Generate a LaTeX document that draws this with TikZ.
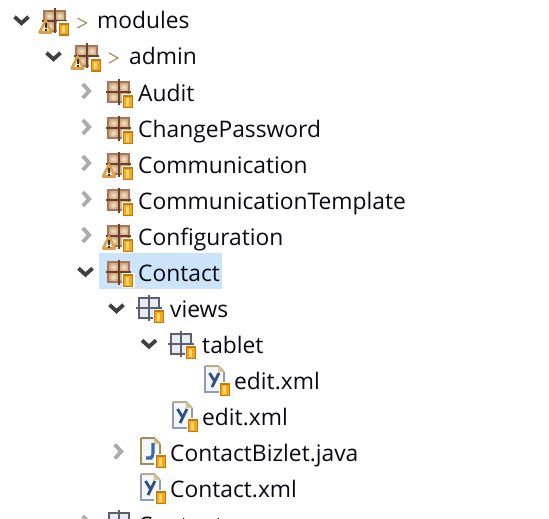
\documentclass[tikz,border=0pt]{standalone}
\usepackage{fontspec}
\setmainfont{Open Sans}
\definecolor{txt}{HTML}{0A0A14}
\definecolor{sel}{HTML}{CCE4F9}
\definecolor{chevD}{HTML}{404040}
\definecolor{chevL}{HTML}{ABABAB}
\definecolor{pkgE}{HTML}{A9765C}
\definecolor{pkgL}{HTML}{F2E6C8}
\definecolor{pkgM}{HTML}{C6A274}
\definecolor{pkgC}{HTML}{6E3F2E}
\definecolor{jarO}{HTML}{F5A91A}
\definecolor{jarD}{HTML}{C47A10}
\definecolor{jarL}{HTML}{FFD970}
\definecolor{warnO}{HTML}{D9A050}
\definecolor{warnF}{HTML}{FBEBC4}
\definecolor{fldE}{HTML}{5F5F66}
\definecolor{fldF}{HTML}{E6EBFA}
\definecolor{xmlE}{HTML}{8C9DB8}
\definecolor{xmlF}{HTML}{F4F6FB}
\definecolor{fold}{HTML}{D9C493}
\definecolor{xmlY}{HTML}{2F4F7F}
\definecolor{javE}{HTML}{A38E55}
\definecolor{javJ}{HTML}{2F6CA8}
\definecolor{gtC}{HTML}{A88A5C}
\definecolor{xmlT}{HTML}{B5AE8C}
\tikzset{
  x=1pt,y=-1pt,
  lbl/.style={anchor=base west,inner sep=0pt,text=txt,font=\fontsize{22.8}{26}\selectfont},
  chev/.style={line width=3.8pt,line cap=butt,line join=miter}
}
\newcommand{\chevDown}[2]{\draw[chev,chevD] (#1-7,#2-3.2) -- (#1,#2+3.2) -- (#1+7,#2-3.2);}
\newcommand{\chevRight}[2]{\draw[chev,chevL] (#1-3.2,#2-7) -- (#1+3.2,#2) -- (#1-3.2,#2+7);}
% jar: left-top corner
\newcommand{\jarIcon}[2]{\begin{scope}[shift={(#1,#2)}]
  \fill[white] (-1.5,-1.5) rectangle (11.5,14);
  \fill[jarD] (0,0) rectangle (10,13);
  \fill[jarO] (1,2.2) rectangle (9,11.5);
  \fill[jarL] (3,3) rectangle (6,10.5);
\end{scope}}
% warning triangle: apex
\newcommand{\warnIcon}[2]{\begin{scope}[shift={(#1,#2)}]
  \fill[warnF,draw=warnO,line width=2.6pt,line join=round] (0,1.5) -- (6,13.5) -- (-6,13.5) -- cycle;
  \fill[black!80] (-1,4.5) rectangle (1,9.5);
  \fill[black!80] (-1,10.5) rectangle (1,12.5);
\end{scope}}
% package: centre
\newcommand{\pkgIcon}[2]{\begin{scope}[shift={(#1,#2)}]
  \shade[inner color=pkgL,outer color=pkgM] (-10.5,-10) rectangle (0,0);
  \shade[inner color=pkgL,outer color=pkgM] (0,-10) rectangle (10.5,0);
  \shade[inner color=pkgL,outer color=pkgM] (-10.5,0) rectangle (0,10);
  \shade[inner color=pkgL,outer color=pkgM] (0,0) rectangle (10.5,10);
  \draw[pkgE,line width=2pt] (-10.5,-10) rectangle (10.5,10);
  \draw[pkgC,line width=2pt] (-12.5,0) -- (12.5,0);
  \draw[pkgC,line width=2pt] (0,-12.5) -- (0,12.5);
\end{scope}}
% source folder: centre
\newcommand{\fldIcon}[2]{\begin{scope}[shift={(#1,#2)}]
  \fill[fldF] (-10,-10) rectangle (10,10);
  \draw[fldE,line width=2pt] (-10,-10) rectangle (10,10);
  \draw[fldE,line width=2pt] (-13,0) -- (13,0);
  \draw[fldE,line width=2pt] (0,-13) -- (0,13);
\end{scope}}
% page: left-top, colours for left/bottom edge and top edge
\newcommand{\pageIcon}[4]{\begin{scope}[shift={(#1,#2)}]
  \fill[xmlF] (0,0) -- (13,0) -- (19,6) -- (19,26) -- (0,26) -- cycle;
  \draw[#3,line width=2pt] (19,6) -- (19,26) -- (0,26) -- (0,0);
  \draw[#4,line width=2pt] (0,0) -- (13,0) -- (19,6);
  \fill[fold] (13,0) -- (19,6) -- (13,6) -- cycle;
\end{scope}}
\newcommand{\yGlyph}[2]{\draw[xmlY,line width=2.8pt] (#1+4.5,#2+7) -- (#1+9.5,#2+15);\draw[xmlY,line width=2.8pt] (#1+14,#2+7) -- (#1+7,#2+21);}
\newcommand{\jGlyph}[2]{\draw[javJ,line width=3.2pt] (#1+12,#2+5) -- (#1+12,#2+17) -- (#1+10,#2+20) -- (#1+5,#2+20);}
\newcommand{\gtSign}[2]{\draw[gtC,line width=1.2pt] (#1-4.5,#2-5) -- (#1+4.5,#2) -- (#1-4.5,#2+5);}
\begin{document}
\begin{tikzpicture}
\useasboundingbox (0,0) rectangle (549,519);
\fill[white] (0,0) rectangle (549,519);
\clip (0,0) rectangle (549,519);
\fill[sel] (99,253) rectangle (222,289);
% row 1
\chevDown{21.5}{20}
\pkgIcon{54.5}{21}\warnIcon{45.5}{19}\jarIcon{58.5}{23}
\gtSign{82}{23}
\node[lbl] (n1) at (97,29) {modules};
% row 2
\chevDown{53.5}{56}
\pkgIcon{86.5}{56}\warnIcon{77.5}{55}\jarIcon{90.5}{59}
\gtSign{113.5}{58}
\node[lbl] (n2) at (129,65) {admin};
% package rows
\chevRight{86}{91}
\pkgIcon{118.5}{92}\jarIcon{123}{95}
\node[lbl] (n3) at (138,101) {Audit};
\chevRight{86}{127}
\pkgIcon{118.5}{128}\jarIcon{123}{131}
\node[lbl] (n4) at (138,137) {ChangePassword};
\chevRight{86}{163}
\pkgIcon{118.5}{164}\warnIcon{109}{163}\jarIcon{123}{167}
\node[lbl] (n5) at (138,173) {Communication};
\chevRight{86}{199}
\pkgIcon{118.5}{200}\jarIcon{123}{203}
\node[lbl] (n6) at (138,209) {CommunicationTemplate};
\chevRight{86}{235}
\pkgIcon{118.5}{236}\warnIcon{109}{235}\jarIcon{123}{239}
\node[lbl] (n7) at (138,245) {Configuration};
\chevDown{85.5}{271.5}
\pkgIcon{118.5}{272}\jarIcon{123}{274}
\node[lbl] (n8) at (138,281) {Contact};
% views
\chevDown{116.5}{308}
\fldIcon{149}{308}\jarIcon{154}{310}
\node[lbl] (n9) at (170,317) {views};
\chevDown{149}{343.5}
\fldIcon{181}{344}\jarIcon{186}{346}
\node[lbl] (n10) at (202,353) {tablet};
% files
\pageIcon{205}{366}{xmlE}{xmlT}\yGlyph{205}{366}\jarIcon{220}{383}
\node[lbl] (n11) at (234,389) {edit.xml};
\pageIcon{173}{402}{xmlE}{xmlT}\yGlyph{173}{402}\jarIcon{188}{419}
\node[lbl] (n12) at (202,425) {edit.xml};
\chevRight{118}{451.5}
\pageIcon{141}{438}{javE}{javE}\jGlyph{141}{438}\jarIcon{155.5}{455}
\node[lbl] (n13) at (170,461) {ContactBizlet.java};
\pageIcon{141}{474}{xmlE}{xmlT}\yGlyph{141}{474}\jarIcon{155.5}{491}
\node[lbl] (n14) at (170,497) {Contact.xml};
% cut-off last row
\chevRight{86}{523}
\fldIcon{118.5}{523}
\node[lbl] (n15) at (138,533) {Content};
\end{tikzpicture}
\end{document}
